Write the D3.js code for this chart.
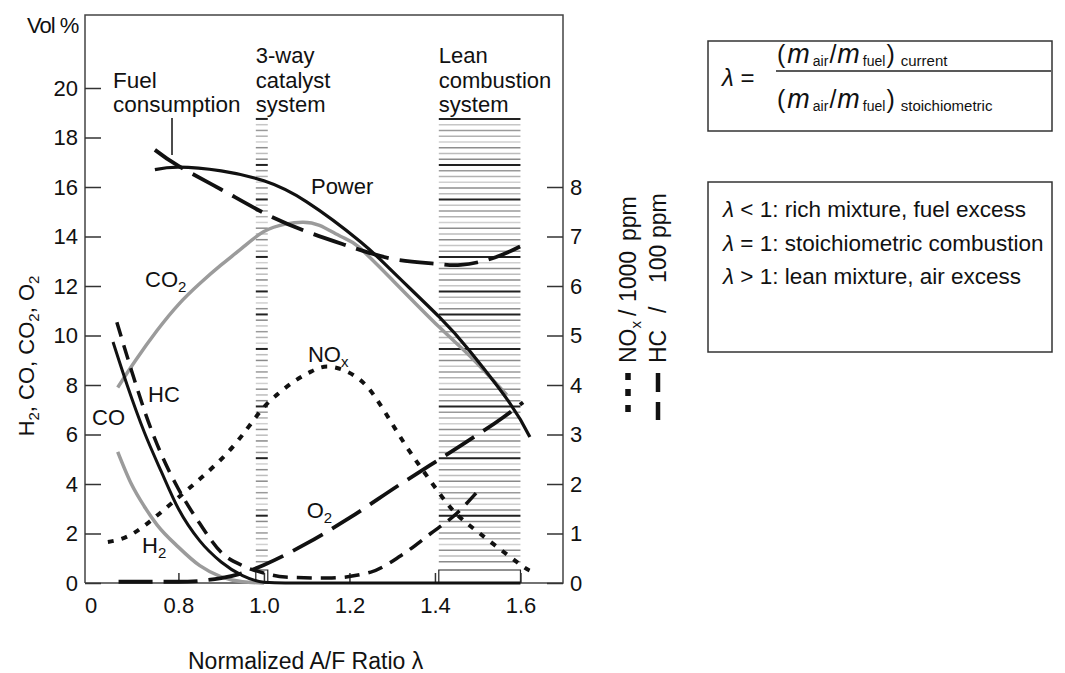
<!DOCTYPE html>
<html>
<head>
<meta charset="utf-8">
<script src="https://cdn.jsdelivr.net/npm/d3@7"></script>
<style>
  body { margin: 0; background: #fff; }
  svg text { font-family: "Liberation Sans", Arial, Helvetica, sans-serif; fill: #111; }
</style>
</head>
<body>
<script>
// axis ticks
const lambdaTicks = [0.8, 1.0, 1.2, 1.4, 1.6]
const volTicks = [0, 2, 4, 6, 8, 10, 12, 14, 16, 18, 20]
const ppmTicks = [0, 1, 2, 3, 4, 5, 6, 7, 8]

// curves, [lambda, value]; vol % on the left axis
const power = [[0.745,16.7],[0.8,16.8],[0.9,16.65],[1.0,16.25],[1.1,15.4],[1.225,13.8],[1.3,12.6],[1.41,10.75],[1.48,9.4],[1.575,7.27],[1.622,5.9]]
const fuel = [[0.745,17.5],[0.8,16.85],[0.9,15.9],[1.0,14.95],[1.1,14.2],[1.2,13.6],[1.3,13.1],[1.4,12.9],[1.46,12.85],[1.54,13.15],[1.622,13.8]]
const co2 = [[0.658,7.9],[0.7,9.0],[0.75,10.2],[0.8,11.25],[0.85,12.1],[0.9,12.85],[0.95,13.55],[1.0,14.2],[1.05,14.5],[1.09,14.58],[1.13,14.45],[1.18,14.0],[1.22,13.6],[1.3,12.25],[1.41,10.34],[1.48,9.2],[1.568,7.6]]
const co = [[0.647,9.74],[0.68,8.0],[0.72,6.1],[0.76,4.5],[0.8,3.0],[0.85,1.7],[0.9,0.85],[0.95,0.3],[1.0,0.03],[1.05,0],[1.6,0]]
const h2 = [[0.658,5.3],[0.69,4.0],[0.72,3.1],[0.75,2.35],[0.8,1.45],[0.85,0.7],[0.9,0.25],[0.95,0.05],[1.0,0]]
const o2 = [[0.66,0.05],[0.8,0.05],[0.9,0.2],[0.95,0.4],[1.0,0.73],[1.1,1.6],[1.2,2.63],[1.318,3.98],[1.388,4.75],[1.463,5.58],[1.56,6.7],[1.606,7.3]]
// right axis: NOx / 1000 ppm, HC / 100 ppm
const nox = [[0.635,0.83],[0.694,1.0],[0.773,1.53],[0.85,2.1],[0.927,2.75],[0.99,3.45],[1.03,3.8],[1.07,4.07],[1.11,4.27],[1.155,4.37],[1.218,4.15],[1.27,3.63],[1.33,2.8],[1.388,2.08],[1.442,1.47],[1.505,1.0],[1.592,0.42],[1.622,0.25]]
const hc = [[0.656,5.27],[0.69,4.3],[0.73,3.25],[0.76,2.6],[0.8,1.9],[0.85,1.2],[0.9,0.62],[0.95,0.35],[1.0,0.2],[1.05,0.12],[1.15,0.1],[1.25,0.22],[1.32,0.55],[1.39,1.0],[1.45,1.4],[1.505,1.9]]

// operating zones (lambda range)
const zones = [
    { lines: ['3-way', 'catalyst', 'system'], from: 0.981, to: 1.009 },
    { lines: ['Lean', 'combustion', 'system'], from: 1.409, to: 1.6 }
]

const W = 1065, H = 673
const pLeft = 85, pRight = 563, pTop = 15, pBottom = 583

const x = d3.scaleLinear().domain([0.5815, 1.6995]).range([pLeft, pRight])
const yL = d3.scaleLinear().domain([0, 20]).range([pBottom, 88])
const yR = d3.scaleLinear().domain([0, 10]).range([pBottom, 88])

const black = '#111', gray = '#9b9b9b'

const svg = d3.select('body').append('svg')
    .attr('width', W).attr('height', H)

// hatch in the zones
const hatchTop = 18.75, hatchBottom = 0.7
const step = 5.75
const darkIdx = [0, 8, 14, 24, 30, 34, 40, 50, 59, 69]
const tones = ['#8a8a8a', '#c6c6c6', '#9a9a9a', '#b2b2b2', '#d0d0d0', '#8e8e8e', '#bdbdbd']
zones.forEach(z => {
    const g = svg.append('g')
    const n = Math.floor((yL(hatchBottom) - yL(hatchTop)) / step)
    for (let i = 0; i <= n; ++i) {
        const yy = yL(hatchTop) + i * step
        const dark = darkIdx.includes(i)
        g.append('line')
            .attr('x1', x(z.from)).attr('x2', x(z.to))
            .attr('y1', yy).attr('y2', yy)
            .attr('stroke', dark ? '#222' : tones[i % tones.length])
            .attr('stroke-width', dark ? 2 : 1.5)
    }
    // little box at the foot
    g.append('path')
        .attr('d', `M${x(z.from)},${pBottom}V${pBottom - 13}H${x(z.to)}V${pBottom}`)
        .attr('fill', 'none').attr('stroke', '#222').attr('stroke-width', 1.2)
    const t = svg.append('text').attr('font-size', 22)
    z.lines.forEach((s, i) => {
        t.append('tspan').attr('x', x(z.from)).attr('y', 63 + i * 24.5).text(s)
    })
})

// frame
svg.append('path')
    .attr('d', `M${pLeft},${pBottom}V${pTop}H${pRight}V${pBottom}H${pLeft}`)
    .attr('fill', 'none').attr('stroke', '#444').attr('stroke-width', 1.5)

// axes
const axL = svg.append('g').attr('transform', `translate(${pLeft},0)`)
    .call(d3.axisLeft(yL).tickValues(volTicks).tickSizeInner(-16).tickSizeOuter(0).tickPadding(7))
const axR = svg.append('g').attr('transform', `translate(${pRight},0)`)
    .call(d3.axisRight(yR).tickValues(ppmTicks).tickSizeInner(-16).tickSizeOuter(0).tickPadding(7))
const axB = svg.append('g').attr('transform', `translate(0,${pBottom})`)
    .call(d3.axisBottom(x).tickValues(lambdaTicks).tickFormat(d3.format('.1f')).tickSizeInner(-10).tickSizeOuter(0).tickPadding(14))
;[axL, axR, axB].forEach(a => {
    a.select('.domain').remove()
    a.selectAll('line').attr('stroke', '#333').attr('stroke-width', 1.5)
    a.selectAll('text').attr('font-size', 22).attr('font-family', null).attr('fill', '#111')
})
axB.append('text').attr('x', pLeft + 6).attr('y', 14).attr('dy', '0.71em')
    .attr('text-anchor', 'middle').attr('font-size', 22).attr('fill', '#111').text('0')

// curves
const smooth = d3.curveNatural, flat = d3.curveMonotoneX
const lineL = c => d3.line().x(d => x(d[0])).y(d => yL(d[1])).curve(c)
const lineR = c => d3.line().x(d => x(d[0])).y(d => yR(d[1])).curve(c)

const series = [
    { data: h2, line: lineL(flat), color: gray, w: 3.5, dash: null },
    { data: co2, line: lineL(smooth), color: gray, w: 3.5, dash: null },
    { data: co, line: lineL(flat), color: black, w: 3, dash: null },
    { data: power, line: lineL(smooth), color: black, w: 3.2, dash: null },
    { data: fuel, line: lineL(smooth), color: black, w: 3.8, dash: '34,11' },
    { data: o2, line: lineL(flat), color: black, w: 3.8, dash: '34,11' },
    { data: hc, line: lineR(flat), color: black, w: 3.5, dash: '15,9' },
    { data: nox, line: lineR(smooth), color: black, w: 4, dash: '6,8' }
]
series.forEach(s => {
    svg.append('path')
        .attr('d', s.line(s.data))
        .attr('fill', 'none')
        .attr('stroke', s.color)
        .attr('stroke-width', s.w)
        .attr('stroke-dasharray', s.dash)
})

// curve labels: [text, subscript, lambda, vol %]
const labels = [
    ['Power', '', 1.11, 15.72],
    ['CO', '2', 0.722, 11.96],
    ['NO', 'x', 1.103, 8.93],
    ['HC', '', 0.729, 7.31],
    ['CO', '', 0.598, 6.38],
    ['O', '2', 1.1, 2.63],
    ['H', '2', 0.715, 1.21]
]
labels.forEach(l => {
    const t = svg.append('text').attr('x', x(l[2])).attr('y', yL(l[3])).attr('font-size', 22)
    t.append('tspan').text(l[0])
    if (l[1]) t.append('tspan').attr('font-size', 15).attr('dy', 5).text(l[1])
})

// fuel consumption note
const fc = svg.append('text').attr('font-size', 22.5)
fc.append('tspan').attr('x', x(0.647)).attr('y', 88).text('Fuel')
fc.append('tspan').attr('x', x(0.647)).attr('y', 112).text('consumption')
svg.append('line')
    .attr('x1', x(0.785)).attr('x2', x(0.785))
    .attr('y1', yL(18.79)).attr('y2', yL(17.29))
    .attr('stroke', black).attr('stroke-width', 1.5)

// axis titles
svg.append('text').attr('x', 27).attr('y', 33).attr('font-size', 22).attr('letter-spacing', -1).text('Vol %')
const yt = svg.append('text').attr('transform', 'translate(34,356) rotate(-90)')
    .attr('text-anchor', 'middle').attr('font-size', 22)
;[['H', '2'], [', CO, CO', '2'], [', O', '2']].forEach((p, i) => {
    yt.append('tspan').attr('dy', i ? -5 : 0).text(p[0])
    yt.append('tspan').attr('font-size', 15).attr('dy', 5).text(p[1])
})
svg.append('text').attr('x', 188).attr('y', 669)
    .attr('font-size', 23).text('Normalized A/F Ratio λ')

// right axis title and line keys
const rt1 = svg.append('text').attr('transform', 'translate(636,363) rotate(-90)').attr('font-size', 23)
rt1.append('tspan').attr('x', 0).text('NO')
rt1.append('tspan').attr('font-size', 15).attr('dy', 5).text('x')
rt1.append('tspan').attr('x', 47).attr('dy', -5).text('/')
rt1.append('tspan').attr('x', 61).text('1000')
rt1.append('tspan').attr('x', 122).text('ppm')
const rt2 = svg.append('text').attr('transform', 'translate(666,363) rotate(-90)').attr('font-size', 23)
rt2.append('tspan').attr('x', 0).text('HC')
rt2.append('tspan').attr('x', 50).text('/')
rt2.append('tspan').attr('x', 80).text('100')
rt2.append('tspan').attr('x', 125).text('ppm')
svg.append('line').attr('x1', 628).attr('x2', 628).attr('y1', 373).attr('y2', 420)
    .attr('stroke', black).attr('stroke-width', 5.5).attr('stroke-dasharray', '7,9')
svg.append('line').attr('x1', 658).attr('x2', 658).attr('y1', 373).attr('y2', 420)
    .attr('stroke', black).attr('stroke-width', 4.5).attr('stroke-dasharray', '19,10')

// definition box
svg.append('rect').attr('x', 708).attr('y', 41).attr('width', 344).attr('height', 90)
    .attr('fill', 'none').attr('stroke', '#333').attr('stroke-width', 1.5)
svg.append('text').attr('x', 722).attr('y', 86).attr('font-size', 24)
    .html('<tspan font-style="italic">λ</tspan> =')
svg.append('line').attr('x1', 776).attr('x2', 1051).attr('y1', 71).attr('y2', 71)
    .attr('stroke', '#222').attr('stroke-width', 1.3)
function ratio(y, sub) {
    const t = svg.append('text').attr('x', 777).attr('y', y).attr('font-size', 25)
    t.append('tspan').text('(')
    t.append('tspan').attr('font-style', 'italic').attr('font-size', 27).attr('dx', 2).text('m')
    t.append('tspan').attr('font-size', 14).attr('dy', 3).attr('dx', 3).text('air')
    t.append('tspan').attr('dy', -3).attr('dx', 1).text('/')
    t.append('tspan').attr('font-style', 'italic').attr('font-size', 27).attr('dx', 1).text('m')
    t.append('tspan').attr('font-size', 14).attr('dy', 3).attr('dx', 3).text('fuel')
    t.append('tspan').attr('dy', -3).attr('dx', 1).text(')')
    t.append('tspan').attr('font-size', 15).attr('dy', 3).attr('dx', 6).text(sub)
}
ratio(63, 'current')
ratio(108, 'stoichiometric')

// legend box
svg.append('rect').attr('x', 708).attr('y', 182).attr('width', 344).attr('height', 170)
    .attr('fill', 'none').attr('stroke', '#333').attr('stroke-width', 1.5)
const notes = [['<', 'rich mixture, fuel excess'], ['=', 'stoichiometric combustion'], ['>', 'lean mixture, air excess']]
notes.forEach((n, i) => {
    svg.append('text').attr('x', 723).attr('y', 217 + i * 33.5).attr('font-size', 22.5)
        .html(`<tspan font-style="italic">λ</tspan> ${n[0]} 1: ${n[1]}`)
})
</script>
</body>
</html>
